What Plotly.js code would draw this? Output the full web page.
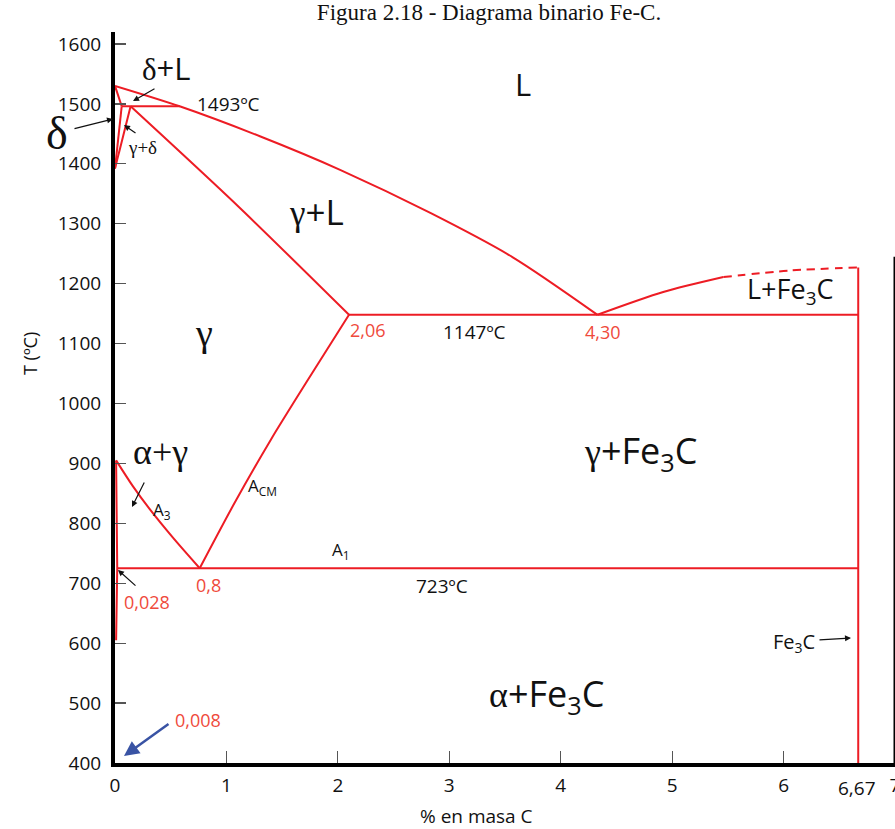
<!DOCTYPE html>
<html><head><meta charset="utf-8">
<script src="https://cdn.plot.ly/plotly-3.0.1.min.js"></script>
<style>html,body{margin:0;padding:0;background:#fff;overflow:hidden}#chart{width:915px;height:829px}</style>
</head><body><div id="chart"></div>
<script>
// ---- data (wt% C, °C) ----
const liquidusX = [0, 0.58, 1.30, 2.02, 2.83, 3.57, 4.33];
const liquidusT = [1530, 1496, 1446, 1390, 1318, 1244, 1148];
const solidusX = [0.14, 1.10, 2.10];
const solidusT = [1496, 1330, 1148];
const acmX = [2.10, 1.75, 1.40, 1.07, 0.76];
const acmT = [1148, 1045, 940, 833, 725];
const a3X = [0.01, 0.16, 0.31, 0.52, 0.76];
const a3T = [905, 862, 824, 776, 725];
const fe3cLiqX = [4.33, 4.92, 5.46];
const fe3cLiqT = [1148, 1186, 1211];
const fe3cDashX = [5.46, 6.06, 6.67];
const fe3cDashT = [1211, 1222, 1227];
const eutecticX = [2.10, 6.67];
const eutecticT = [1148, 1148];
const eutectoidX = [0.02, 6.67];
const eutectoidT = [725, 725];
const cementiteX = [6.67, 6.67];
const cementiteT = [1227, 400];
const peritecticX = [0.06, 0.58];
const peritecticT = [1496, 1496];
const deltaSolX = [0, 0.06];
const deltaSolT = [1530, 1496];
const deltaGammaX = [0.06, 0];
const deltaGammaT = [1496, 1392];
const gammaDeltaX = [0.14, 0];
const gammaDeltaT = [1496, 1392];
const alphaX = [0.01, 0.02, 0.01];
const alphaT = [905, 725, 605];
const xTicks = [0, 1, 2, 3, 4, 5, 6, 7];
const yTicks = [400, 500, 600, 700, 800, 900, 1000, 1100, 1200, 1300, 1400, 1500, 1600];

const RED = '#ed1c24';
const LRED = '#ef4a3c';
const SANS = 'Open Sans, sans-serif';
const SERIF = 'Liberation Serif, serif';

function ln(x, y, opt) {
  opt = opt || {};
  return {x: x, y: y, mode: 'lines', type: 'scatter', hoverinfo: 'skip', showlegend: false,
    line: {color: RED, width: 2, shape: opt.shape || 'linear', dash: opt.dash || 'solid', smoothing: 0.8}};
}
const traces = [
  ln(liquidusX, liquidusT, {shape: 'spline'}),
  ln(solidusX, solidusT, {shape: 'spline'}),
  ln(acmX, acmT, {shape: 'spline'}),
  ln(a3X, a3T, {shape: 'spline'}),
  ln(fe3cLiqX, fe3cLiqT, {shape: 'spline'}),
  ln(fe3cDashX, fe3cDashT, {shape: 'spline', dash: '8px,6px'}),
  ln(eutecticX, eutecticT),
  ln(eutectoidX, eutectoidT),
  ln(cementiteX, cementiteT),
  ln(peritecticX, peritecticT),
  ln(deltaSolX, deltaSolT),
  ln(deltaGammaX, deltaGammaT),
  ln(gammaDeltaX, gammaDeltaT),
  ln(alphaX, alphaT)
];

// pixel helpers for label placement (paper coordinates)
const W = 915, H = 829;
const L0 = 115, PW = 780, T0 = 32, PH = 731, XMAX = 7, YMIN = 400, YMAX = 1620;
const px = p => (p - L0) / PW;
const py = p => 1 - (p - T0) / PH;

function lab(text, x, y, size, color, fam, angle) {
  return {xref: 'paper', yref: 'paper', x: px(x), y: py(y), text: text, showarrow: false,
    xanchor: 'center', yanchor: 'middle', textangle: angle || 0,
    font: {size: size, color: color || '#111', family: fam || SANS}};
}
function arr(hx, hy, tx, ty, color, w, head, size) {
  return {xref: 'paper', yref: 'paper', x: px(hx), y: py(hy), ax: tx - hx, ay: ty - hy, text: '', showarrow: true,
    arrowhead: head || 2, arrowsize: size || 1, arrowwidth: w || 1.2, arrowcolor: color || '#111', standoff: 0};
}
const g = s => "<span style=\"font-family:'Liberation Serif',serif\">" + s + '</span>';

const annotations = [
  lab('L', 523, 84, 31),
  lab(g('δ') + '+L', 166, 68, 31),
  lab('δ', 57, 133, 46, '#111', SERIF),
  lab('γ+δ', 142, 147, 19, '#111', SERIF),
  lab('1493ºC', 228, 104, 19),
  lab(g('γ') + '+L', 316, 212, 35),
  lab('γ', 204, 333, 38, '#111', SERIF),
  lab('2,06', 368, 330, 18, LRED),
  lab('1147ºC', 474, 332, 19),
  lab('4,30', 603, 332, 18, LRED),
  lab('L+Fe<sub>3</sub>C', 790, 290, 27),
  lab(g('α') + '+' + g('γ'), 160, 452, 36, '#111', SERIF),
  lab('A<sub>3</sub>', 162, 511, 17),
  lab('A<sub>CM</sub>', 262, 487, 17),
  lab('A<sub>1</sub>', 341, 550, 17),
  lab('0,8', 208, 585, 18, LRED),
  lab('723ºC', 442, 586, 19),
  lab('0,028', 147, 602, 18, LRED),
  lab(g('γ') + '+Fe<sub>3</sub>C', 640, 452, 36),
  lab('Fe<sub>3</sub>C', 794, 642, 20),
  lab(g('α') + '+Fe<sub>3</sub>C', 546, 695, 36),
  lab('0,008', 198, 720, 18, LRED),
  lab('6,67', 857, 788, 19),
  lab('% en masa C', 476, 816, 19),
  lab('T (ºC)', 30, 354, 18, '#111', SANS, -90),
  arr(133, 101, 156, 88),
  arr(113, 119, 73, 129),
  arr(124, 125, 137, 134),
  arr(132, 507, 145, 481),
  arr(118, 570, 137, 587),
  arr(851, 638, 818, 640),
  arr(124, 756, 170, 723, '#3953a4', 2.5, 2, 1.2)
];

const layout = {
  width: W, height: H,
  margin: {l: L0, r: W - L0 - PW, t: T0, b: H - T0 - PH},
  paper_bgcolor: '#fff', plot_bgcolor: '#fff',
  title: {text: 'Figura 2.18 - Diagrama binario Fe-C.', font: {family: SERIF, size: 23, color: '#111'},
    xref: 'container', yref: 'container', x: 489 / W, y: 1 - 12 / H, xanchor: 'center', yanchor: 'middle'},
  xaxis: {range: [0, XMAX], tickvals: xTicks, ticktext: xTicks.map(String), showgrid: false, zeroline: false,
    showline: true, linecolor: '#000', linewidth: 4, ticks: 'inside', ticklen: 12, tickcolor: '#555', tickwidth: 1.2,
    tickfont: {family: SANS, size: 19, color: '#111'}, ticklabelstandoff: 2},
  yaxis: {range: [YMIN, YMAX], tickvals: yTicks, ticktext: yTicks.map(String), showgrid: false, zeroline: false,
    showline: true, linecolor: '#000', linewidth: 4, ticks: 'inside', ticklen: 11, tickcolor: '#555', tickwidth: 1.2,
    tickfont: {family: SANS, size: 19, color: '#111'}, ticklabelstandoff: 6},
  shapes: [{type: 'line', xref: 'x', yref: 'y', x0: 7, x1: 7, y0: 1245, y1: 400, line: {color: '#000', width: 3}}],
  annotations: annotations
};
Plotly.newPlot('chart', traces, layout, {displayModeBar: false, staticPlot: true});
</script></body></html>
